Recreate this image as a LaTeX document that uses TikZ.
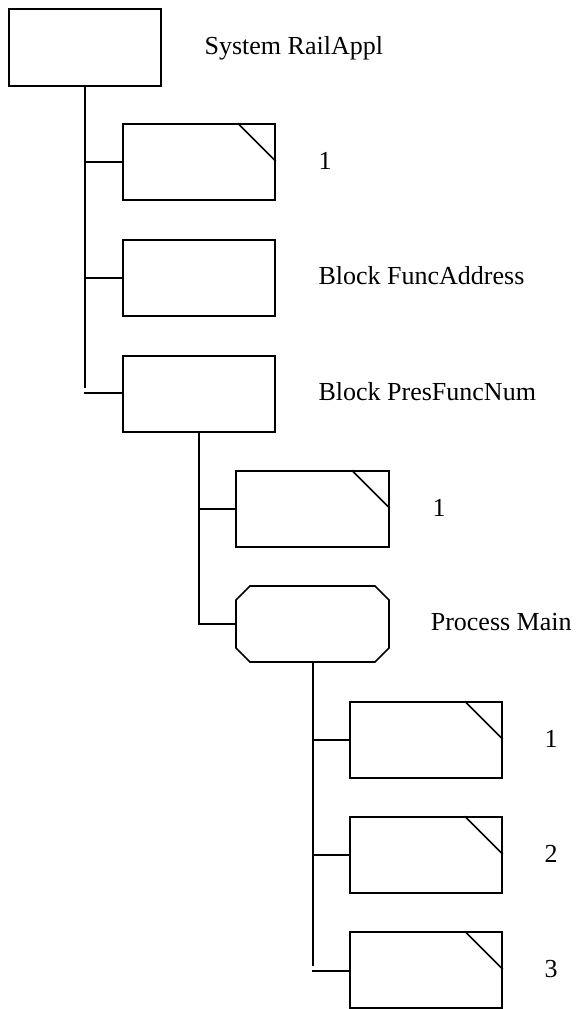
\documentclass[tikz,border=0pt]{standalone}
\usepackage{fontspec}
\setmainfont{Liberation Serif}
\begin{document}
\begin{tikzpicture}[x=1pt,y=-1pt,
  every path/.style={line width=1.6pt},
  blk/.style={draw, line width=1.6pt, rectangle, minimum width=152pt, minimum height=76pt, inner sep=0pt},
  lab/.style={font=\fontsize{26}{30}\selectfont, inner sep=0pt, anchor=base west},
  conn/.style={draw, line width=1.6pt}]
\useasboundingbox (0,0) rectangle (577,1009);
\fill[white] (0,0) rectangle (577,1009);
% nodes
\node[blk, minimum height=77pt] (top) at (85,47.5) {};
\node[blk] (b1) at (199,162) {};
\node[blk] (b2) at (199,278) {};
\node[blk] (b3) at (199,394) {};
\node[blk, minimum width=153pt] (b4) at (312.5,509) {};
\node[blk] (b5) at (426,740) {};
\node[blk] (b6) at (426,855) {};
\node[blk] (b7) at (426,970) {};
% process octagon
\draw (236,600) -- (250,586) -- (375,586) -- (389,600) -- (389,648) -- (375,662) -- (250,662) -- (236,648) -- cycle;
\coordinate (pmW) at (236,624);
\coordinate (pmS) at (313,662);
% notches
\foreach \n in {b1,b4,b5,b6,b7}{
  \draw ([xshift=-38pt]\n.north east) -- ([yshift=-38pt]\n.north east);
}
% trunk 1
\coordinate (t1end) at (85,388);
\coordinate (s3) at (84,393);
\draw[conn] (top.south) -- (t1end);
\draw[conn] (top.south |- b1.west) -- (b1.west);
\draw[conn] (top.south |- b2.west) -- (b2.west);
\draw[conn] (s3) -- (s3 -| b3.west);
% trunk 2
\coordinate (t2end) at (199,624);
\draw[conn] (b3.south) -- (t2end) -- (pmW);
\draw[conn] (b3.south |- b4.west) -- (b4.west);
% trunk 3
\coordinate (t3end) at (313,966);
\coordinate (s7) at (312,971);
\draw[conn] (pmS) -- (t3end);
\draw[conn] (pmS |- b5.west) -- (b5.west);
\draw[conn] (pmS |- b6.west) -- (b6.west);
\draw[conn] (s7) -- (s7 -| b7.west);
% labels
\node[lab] (ltop) at ([xshift=42pt,yshift=-7pt]top.east) {System RailAppl};
\node[lab] (l1) at ([xshift=42pt,yshift=-7pt]b1.east) {1};
\node[lab] (l2) at ([xshift=42pt,yshift=-6.5pt]b2.east) {Block FuncAddress};
\node[lab] (l3) at ([xshift=42pt,yshift=-6.5pt]b3.east) {Block PresFuncNum};
\node[lab] (l4) at ([xshift=42pt,yshift=-7pt]b4.east) {1};
\node[lab] (lpm) at (430,630.5) {Process Main};
\node[lab] (l5) at ([xshift=41pt,yshift=-7pt]b5.east) {1};
\node[lab] (l6) at ([xshift=41pt,yshift=-7pt]b6.east) {2};
\node[lab] (l7) at ([xshift=41pt,yshift=-7pt]b7.east) {3};
\end{tikzpicture}
\end{document}
